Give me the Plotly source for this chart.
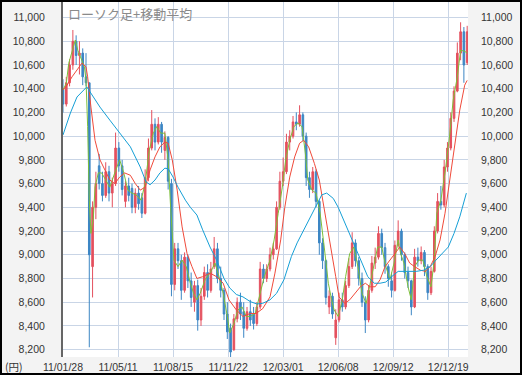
import plotly.graph_objects as go

# ---- data ----
# candles: one per 4 trading days, index in trading days = 4*i
open_ = [10400,10270,10450,10600,10800,10680,10700,10500,10450,8900,9400,9750,9600,9500,9700,9520,9600,9900,9750,9450,
         9580,9560,9400,9520,9480,9350,9650,9900,10100,9950,10100,9880,9990,9600,8750,9050,8950,8700,8980,8780,
         8600,8740,8450,8650,8850,8700,8900,9050,8800,8700,8500,8380,8200,8460,8600,8520,8380,8520,8500,8420,
         8560,8880,8800,8880,9000,9050,9400,9620,9700,9950,10000,10120,10100,10180,10000,9650,9550,9700,9450,9100,
         8950,8560,8650,8300,8450,8620,8560,8740,8900,9100,8950,8800,8600,8450,8700,8930,8980,9180,9060,8900,
         8780,8700,9080,9200,9000,8850,8780,8560,8980,8950,9020,8900,8680,8860,9200,9450,9420,9740,9900,10150,
         10380,10700,10880,10620]
high = [10480,10500,10650,10895,10850,10800,10740,10700,10450,9450,9700,9850,9700,9780,9750,9650,10030,9950,9800,9620,
        9650,9600,9560,9580,9520,9720,9980,10220,10150,10160,10120,10040,10000,9640,9100,9100,9000,9020,9000,8850,
        8780,8790,8720,8900,8920,8940,9150,9100,8900,8720,8600,8420,8500,8640,8680,8600,8560,8620,8560,8600,
        8940,8920,8920,9060,9100,9450,9700,9820,10020,10050,10170,10200,10260,10200,10030,9700,9740,9720,9460,9140,
        8960,8700,8680,8540,8680,8680,8780,8970,9190,9130,8980,8850,8650,8740,8990,9060,9240,9220,9100,8920,
        8850,9120,9290,9220,9020,8900,8790,9050,9060,9070,9040,8920,8900,9240,9520,9580,9800,9950,10200,10420,
        10790,10960,10920,10930]
low = [10200,10250,10420,10560,10600,10520,10430,10420,8220,8640,9300,9550,9450,9480,9450,9400,9580,9700,9500,9400,
       9450,9350,9350,9380,9310,9340,9620,9880,9880,9930,9860,9800,9550,8650,8700,8880,8620,8680,8720,8560,
       8520,8360,8400,8620,8640,8680,8880,8760,8640,8450,8290,8130,8190,8430,8450,8300,8360,8400,8370,8400,
       8540,8760,8770,8860,8960,9040,9380,9580,9680,9880,9980,10050,10080,9960,9580,9480,9520,9400,9000,8880,
       8580,8500,8460,8240,8430,8520,8540,8720,8880,8900,8740,8560,8340,8430,8680,8880,8960,9000,8840,8730,
       8640,8690,9060,8950,8800,8720,8490,8550,8900,8920,8820,8620,8660,8850,9180,9380,9400,9700,9880,10120,
       10370,10640,10450,10600]
close = [10270,10450,10600,10800,10680,10700,10500,10450,9000,9400,9600,9600,9500,9700,9520,9600,9900,9750,9550,9580,
         9500,9400,9520,9430,9350,9650,9900,10100,9950,10100,9950,9990,9620,8750,9050,8950,8700,8980,8780,8640,
         8740,8450,8650,8850,8700,8880,9050,8800,8700,8500,8350,8180,8460,8600,8500,8380,8520,8450,8420,8560,
         8880,8800,8880,9000,9050,9400,9620,9700,9950,10000,10120,10100,10180,10000,9650,9550,9700,9450,9100,8950,
         8640,8650,8500,8450,8620,8560,8740,8900,9100,8950,8800,8600,8450,8700,8930,8980,9180,9060,8900,8800,
         8700,9080,9200,9000,8850,8780,8560,8980,8950,9020,8900,8680,8860,9200,9450,9420,9740,9900,10150,10380,
         10700,10880,10600,10880]

# moving averages: (trading-day index, value)
ma_short_day = [0,4,7,11,15,18,22,26,28,30,32,34,37,39,43,47,52,57,63,69,74,79,84,90,95,100,105,110,114,119,124,128,131,135,
                140,145,150,155,159,163,167,173,179,185,190,195,200,203,208,213,218,223,228,234,240,245,252,257,262,267,271,
                276,281,286,291,295,298,303,308,313,318,323,327,330,335,340,344,349,354,359,364,369,374,379,383,388,393,398,
                403,408,411,415,420,424,428,433,438,443,448,452,455,460,465,470,475,480,484,489,492]
ma_short = [10390,10445,10615,10725,10810,10725,10655,10585,10475,10080,9460,9180,9320,9570,9690,9690,9630,9570,9690,9800,
            9690,9545,9520,9500,9460,9600,9880,10025,10080,10025,10025,9800,9400,8955,8900,8955,8900,8760,8675,8620,8675,
            8790,8845,8930,8815,8675,8480,8340,8420,8535,8560,8480,8480,8505,8675,8815,8955,9125,9350,9570,9800,9965,10080,
            10110,10080,9855,9630,9545,9520,9350,9065,8760,8620,8535,8480,8620,8815,9010,9065,8900,8675,8590,8760,8930,
            9065,9065,8900,8790,8930,9125,9010,8930,8730,8620,8900,8955,8955,8815,8730,8955,9350,9460,9690,9965,10305,
            10500,10725,10715,10700]
ma_mid_day = [0,5,11,17,23,28,30,34,39,45,51,57,63,69,75,82,88,94,100,106,112,118,124,128,133,139,145,151,157,163,170,179,
              187,195,202,211,219,228,235,243,252,258,265,270,276,282,288,293,299,306,312,319,325,332,336,343,349,355,362,
              368,374,380,386,392,398,404,410,416,422,428,435,441,447,453,459,465,471,477,483,489,492]
ma_mid = [10390,10430,10500,10560,10615,10585,10500,10245,9965,9800,9715,9630,9600,9655,9690,9670,9600,9545,9570,9715,
          9825,9910,9950,9940,9800,9545,9235,9010,8900,8800,8815,8845,8815,8760,8620,8535,8480,8505,8505,8545,8645,8845,
          9125,9400,9655,9825,9940,9965,9910,9770,9630,9350,9125,8815,8645,8590,8620,8675,8730,8760,8730,8730,8790,8900,
          8955,9010,9065,9010,8930,8900,8870,8860,8900,8985,9125,9350,9630,9940,10220,10430,10470]
ma_long_day = [0,9,17,29,37,45,57,69,82,94,101,106,112,118,124,128,134,140,149,155,163,170,179,187,196,203,211,219,228,236,
               243,252,260,269,278,285,293,301,309,315,321,329,335,342,349,357,364,371,379,386,393,400,408,420,430,439,447,
               454,461,469,476,483,491]
ma_long = [10010,10195,10330,10415,10330,10245,10135,10025,9910,9740,9615,9590,9630,9690,9730,9725,9655,9570,9460,9400,
           9335,9210,9065,8955,8800,8720,8665,8645,8605,8585,8590,8620,8675,8790,8985,9100,9210,9320,9430,9505,9520,9475,
           9400,9290,9180,9040,8930,8815,8760,8760,8770,8815,8860,8860,8860,8870,8900,8955,9010,9065,9180,9320,9520]

tick_days = [0, 67, 134, 201, 268, 335, 402, 469]
tick_labels = ["11/01/28", "11/05/11", "11/08/15", "11/11/22", "12/03/01", "12/06/08", "12/09/12", "12/12/19"]

day = [4 * i for i in range(len(close))]

RED = "#e4505e"
BLUE = "#3c86c4"
GRID = "#c9d5e6"
YR = [8138, 11131]

fig = go.Figure()
fig.add_trace(go.Candlestick(
    x=day, open=open_, high=high, low=low, close=close,
    increasing=dict(line=dict(color=RED, width=1), fillcolor=RED),
    decreasing=dict(line=dict(color=BLUE, width=1), fillcolor=BLUE),
    whiskerwidth=0, showlegend=False, hoverinfo="skip"))
fig.add_trace(go.Scatter(x=ma_short_day, y=ma_short, mode="lines",
                         line=dict(color="#7dbf3a", width=1), showlegend=False, hoverinfo="skip"))
fig.add_trace(go.Scatter(x=ma_mid_day, y=ma_mid, mode="lines",
                         line=dict(color="#f04a3a", width=1), showlegend=False, hoverinfo="skip"))
fig.add_trace(go.Scatter(x=ma_long_day, y=ma_long, mode="lines", yaxis="y2",
                         line=dict(color="#159fd6", width=1), showlegend=False, hoverinfo="skip"))

tickfont = dict(family="Liberation Sans, Arial, sans-serif", size=10.5, color="#333333")
fig.update_layout(
    width=522, height=375,
    margin=dict(l=63, r=54, t=2, b=18),
    paper_bgcolor="#f3f3f3", plot_bgcolor="#ffffff",
    xaxis=dict(range=[0, 493], tickvals=tick_days, ticktext=tick_labels, showgrid=True,
               gridcolor=GRID, gridwidth=1, zeroline=False, showline=False, ticks="",
               tickfont=tickfont, rangeslider=dict(visible=False), ticklabelstandoff=2),
    yaxis=dict(range=YR, dtick=200, tick0=8200, tickformat=",d", showgrid=True, gridcolor=GRID,
               gridwidth=1, zeroline=False, showline=True, linecolor="#666666", linewidth=2,
               ticks="", tickfont=tickfont, ticklabelstandoff=14),
    yaxis2=dict(range=YR, dtick=200, tick0=8200, tickformat=",d", overlaying="y", side="right",
                showgrid=False, zeroline=False, showline=False, ticks="", tickfont=tickfont,
                ticklabelstandoff=12),
    annotations=[
        dict(text="ローソク足+移動平均", xref="paper", yref="paper", x=0.008, y=1.0,
             xanchor="left", yanchor="top", showarrow=False,
             font=dict(family="Noto Sans CJK JP", size=13, color="#8a8a8a")),
        dict(text="(円)", xref="paper", yref="paper", x=-60 / 405, y=-9 / 355,
             xanchor="left", yanchor="middle", showarrow=False,
             font=dict(family="Noto Sans CJK JP", size=10.5, color="#333333")),
    ],
    shapes=[dict(type="rect", xref="paper", yref="paper",
                 x0=-62 / 405, x1=458 / 405, y0=-17 / 355, y1=356 / 355,
                 line=dict(color="#000000", width=2), fillcolor="rgba(0,0,0,0)", layer="above")],
)
fig.write_html("out.html")
